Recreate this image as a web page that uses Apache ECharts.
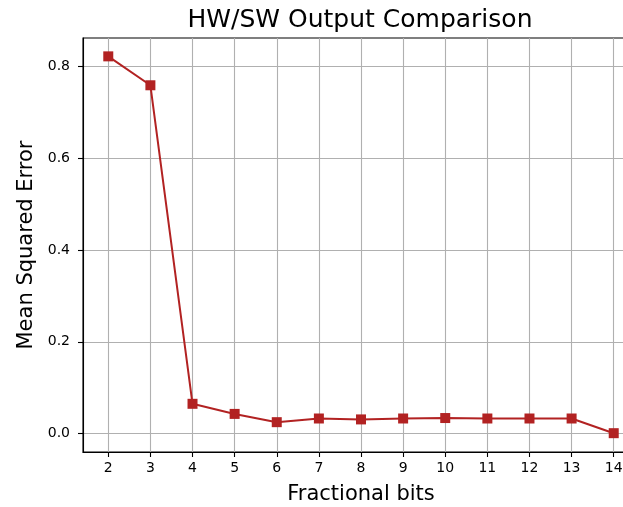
<!DOCTYPE html>
<html>
<head>
<meta charset="utf-8">
<script src="https://cdn.jsdelivr.net/npm/echarts@6/dist/echarts.min.js"></script>
<style>
  html, body { margin: 0; padding: 0; background: #fff; }
  #chart { width: 623px; height: 507px; }
</style>
</head>
<body>
<div id="chart"></div>
<script>
// Fractional bits swept and the mean squared error between HW and SW outputs
const fractionalBits = [2, 3, 4, 5, 6, 7, 8, 9, 10, 11, 12, 13, 14];
const meanSquaredError = [0.822, 0.759, 0.065, 0.043, 0.025, 0.033, 0.031, 0.033, 0.034, 0.033, 0.033, 0.033, 0.001];

// Tick positions on each axis
const xTicks = [2, 3, 4, 5, 6, 7, 8, 9, 10, 11, 12, 13, 14];
const yTicks = [0.0, 0.2, 0.4, 0.6, 0.8];

const FONT = 'DejaVu Sans';
const RED = '#b22222';

const chart = echarts.init(document.getElementById('chart'), null, { renderer: 'canvas' });

chart.setOption({
  animation: false,
  backgroundColor: '#ffffff',
  graphic: [{
    type: 'text',
    x: 360,
    y: 20,
    style: {
      text: 'HW/SW Output Comparison',
      font: '25px "DejaVu Sans"',
      fill: '#000',
      textAlign: 'center',
      textVerticalAlign: 'middle'
    }
  }],
  grid: {
    left: 83,
    top: 38,
    width: 556,
    height: 414,
    containLabel: false,
    outerBoundsMode: 'none',
    show: true,
    borderColor: '#000',
    borderWidth: 1.1,
    backgroundColor: 'transparent'
  },
  xAxis: {
    type: 'value',
    min: 1.4,
    max: 14.6,
    name: 'Fractional bits',
    nameLocation: 'middle',
    nameGap: 32,
    nameTextStyle: { fontFamily: FONT, fontSize: 21, color: '#000' },
    axisLine: { onZero: false, lineStyle: { color: '#000', width: 1.1 } },
    axisTick: { show: true, length: 5, customValues: xTicks, lineStyle: { color: '#000', width: 1.1 } },
    axisLabel: { customValues: xTicks, margin: 9, fontFamily: FONT, fontSize: 14, color: '#000' },
    splitLine: { show: true, lineStyle: { color: '#b0b0b0', width: 1.1 } }
  },
  yAxis: {
    type: 'value',
    min: -0.04,
    max: 0.862,
    name: 'Mean Squared Error',
    nameLocation: 'middle',
    nameGap: 46,
    nameTextStyle: { fontFamily: FONT, fontSize: 21, color: '#000' },
    axisLine: { onZero: false, lineStyle: { color: '#000', width: 1.1 } },
    axisTick: { show: true, length: 5, customValues: yTicks, lineStyle: { color: '#000', width: 1.1 } },
    axisLabel: {
      customValues: yTicks,
      margin: 13,
      fontFamily: FONT,
      fontSize: 14,
      color: '#000',
      formatter: v => v.toFixed(1)
    },
    splitLine: { show: true, lineStyle: { color: '#b0b0b0', width: 1.1 } }
  },
  series: [{
    type: 'line',
    data: fractionalBits.map((b, i) => [b, meanSquaredError[i]]),
    symbol: 'rect',
    symbolSize: 10,
    lineStyle: { color: RED, width: 2 },
    itemStyle: { color: RED },
    z: 3
  }]
});
</script>
</body>
</html>
